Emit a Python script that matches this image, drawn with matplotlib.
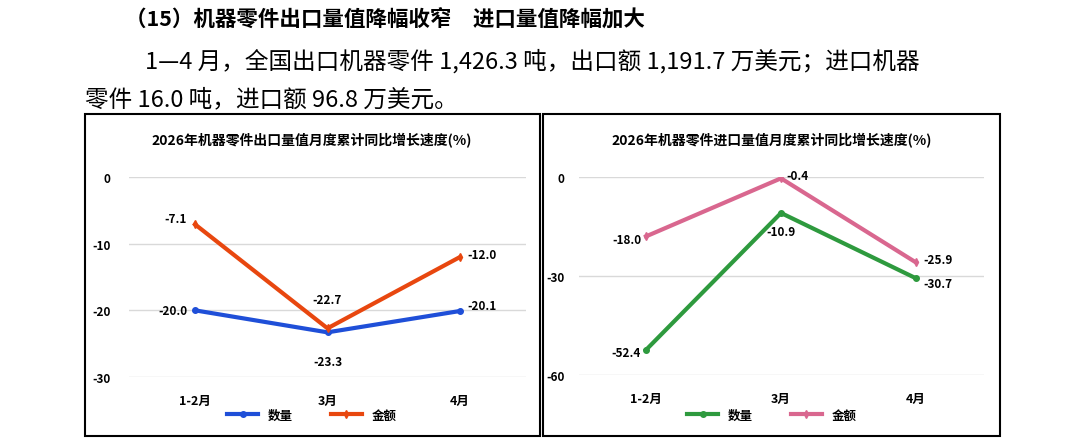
import matplotlib
matplotlib.use("Agg")
import matplotlib.pyplot as plt
from matplotlib.patches import Rectangle
from matplotlib.lines import Line2D

plt.rcParams['font.family'] = ['Noto Sans CJK SC', 'DejaVu Sans']

months = ["1-2月", "3月", "4月"]
exp_qty = [-20.0, -23.3, -20.1]
exp_val = [-7.1, -22.7, -12.0]
imp_qty = [-52.4, -10.9, -30.7]
imp_val = [-18.0, -0.4, -25.9]

W, H = 1085, 439
fig = plt.figure(figsize=(W/100, H/100), dpi=100)

def fx(p): return p / W
def fy(p): return 1 - p / H

# header text
fig.text(fx(125), fy(20), "（15）机器零件出口量值降幅收窄　进口量值降幅加大",
         fontsize=15.5, fontweight='bold', va='center')
fig.text(fx(145), fy(61), "1—4 月，全国出口机器零件 1,426.3 吨，出口额 1,191.7 万美元；进口机器",
         fontsize=17, va='center')
fig.text(fx(85), fy(100), "零件 16.0 吨，进口额 96.8 万美元。", fontsize=17, va='center')

# panel borders
for x0, x1 in [(85, 540), (543, 1000)]:
    fig.patches.append(Rectangle((fx(x0), fy(437)), fx(x1 - x0), (437 - 115) / H,
                                 transform=fig.transFigure, fill=False,
                                 edgecolor='black', lw=1.5))

def panel(left, width, top, bottom, qty, val, c1, c2, ylim, ticks, title, cx,
          qoff, voff, ypad):
    ax = fig.add_axes([fx(left), fy(bottom), width / W, (bottom - top) / H])
    x = range(len(months))
    ax.plot(x, qty, color=c1, lw=3, marker='o', ms=4)
    ax.plot(x, val, color=c2, lw=3, marker='d', ms=4)
    ax.set_xlim(-0.5, 2.5)
    ax.set_ylim(*ylim)
    ax.set_yticks(ticks)
    ax.set_yticklabels([str(t) for t in ticks], fontsize=8.5, fontweight='bold')
    ax.set_xticks(list(x))
    ax.set_xticklabels(months, fontsize=9, fontweight='bold')
    ax.tick_params(length=0, pad=12)
    ax.tick_params(axis='y', pad=ypad)
    ax.grid(axis='y', color='#d9d9d9', lw=1)
    for s in ax.spines.values():
        s.set_visible(False)
    for i in x:
        ax.annotate(f"{qty[i]:.1f}", (i, qty[i]), xytext=qoff[i], textcoords='offset points',
                    ha='center', va='center', fontsize=8.5, fontweight='bold')
        ax.annotate(f"{val[i]:.1f}", (i, val[i]), xytext=voff[i], textcoords='offset points',
                    ha='center', va='center', fontsize=8.5, fontweight='bold')
    fig.text(fx(cx), fy(141), title, ha='center', va='center', fontsize=10, fontweight='bold')
    h1 = Line2D([], [], color=c1, lw=3, marker='o', ms=4)
    h2 = Line2D([], [], color=c2, lw=3, marker='d', ms=4)
    fig.legend([h1, h2], ["数量", "金额"], loc='center', bbox_to_anchor=(fx(cx), fy(416)),
               ncol=2, frameon=False, prop={'size': 9, 'weight': 'bold'},
               handlelength=2.5, columnspacing=3)
    return ax

panel(128.75, 397.5, 178, 378, exp_qty, exp_val, '#1f4fd8', '#e8470f',
      (-30, 0), [0, -10, -20, -30], "2026年机器零件出口量值月度累计同比增长速度(%)", 312,
      [(-16, 0), (0, -21), (16, 4)], [(-14, 4), (0, 21), (16, 2)], 13)
panel(578.5, 405, 178, 376, imp_qty, imp_val, '#2e9a3e', '#d9678f',
      (-60, 0), [0, -30, -60], "2026年机器零件进口量值月度累计同比增长速度(%)", 772,
      [(-14, -2), (0, -13), (16, -4)], [(-14, -2), (12, 2), (16, 2)], 10)

fig.savefig("out.png", dpi=100)
